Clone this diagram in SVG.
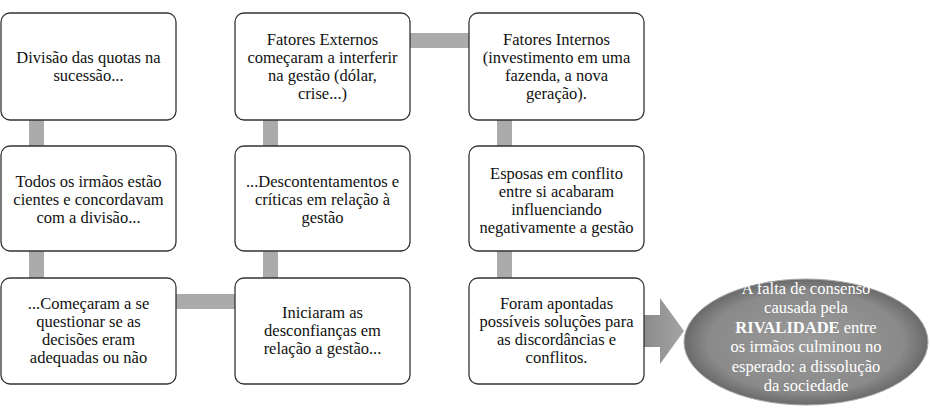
<svg xmlns="http://www.w3.org/2000/svg" width="930" height="420" viewBox="0 0 930 420" font-family="'Liberation Serif', 'DejaVu Serif', 'Times New Roman', serif">
<style>
.b{fill:#fff;stroke:#333;stroke-width:1.3}
text{font-family:'Liberation Serif','DejaVu Serif','Times New Roman',serif;font-size:16.5px;text-anchor:middle}
.t{fill:#111}
.w{fill:#fff}
.c{fill:#ababab}
</style>
<defs>
<radialGradient id="g" cx="0.5" cy="0.5" r="0.5">
<stop offset="0" stop-color="#9a9a9a"/><stop offset="0.8" stop-color="#8a8a8a"/><stop offset="1" stop-color="#6a6a6a"/>
</radialGradient>
<linearGradient id="a" x1="0" y1="0" x2="1" y2="0">
<stop offset="0" stop-color="#8a8a8a"/><stop offset="1" stop-color="#a5a5a5"/>
</linearGradient>
</defs>
<g id="connectors">
<rect class="c" x="29" y="120" width="15" height="26"/>
<rect class="c" x="29" y="251" width="15" height="27"/>
<rect class="c" x="176" y="294" width="59" height="15"/>
<rect class="c" x="263" y="251" width="15" height="27"/>
<rect class="c" x="263" y="120" width="15" height="26"/>
<rect class="c" x="410" y="33" width="59" height="15"/>
<rect class="c" x="497" y="120" width="15" height="26"/>
<rect class="c" x="497" y="251" width="15" height="27"/>
<path d="M644,315 H660 V298 L684,331 L660,364 V347 H644 Z" fill="url(#a)"/>
</g>
<g id="n1"><rect class="b" x="1" y="13" width="175" height="107" rx="9"/>
<text class="t" x="88.5" y="63">Divisão das quotas na</text><text class="t" x="88.5" y="81">sucessão...</text></g>
<g id="n2"><rect class="b" x="1" y="146" width="175" height="105" rx="9"/>
<text class="t" x="88.5" y="187">Todos os irmãos estão</text><text class="t" x="88.5" y="205">cientes e concordavam</text><text class="t" x="88.5" y="223">com a divisão...</text></g>
<g id="n3"><rect class="b" x="1" y="278" width="175" height="106" rx="9"/>
<text class="t" x="88.5" y="309">...Começaram a se</text><text class="t" x="88.5" y="327">questionar se as</text><text class="t" x="88.5" y="345">decisões eram</text><text class="t" x="88.5" y="363">adequadas ou não</text></g>
<g id="n4"><rect class="b" x="235" y="13" width="175" height="107" rx="9"/>
<text class="t" x="322.5" y="45">Fatores Externos</text><text class="t" x="322.5" y="63">começaram a interferir</text><text class="t" x="322.5" y="81">na gestão (dólar,</text><text class="t" x="322.5" y="99">crise...)</text></g>
<g id="n5"><rect class="b" x="235" y="146" width="175" height="105" rx="9"/>
<text class="t" x="322.5" y="187">...Descontentamentos e</text><text class="t" x="322.5" y="205">críticas em relação à</text><text class="t" x="322.5" y="223">gestão</text></g>
<g id="n6"><rect class="b" x="235" y="278" width="175" height="106" rx="9"/>
<text class="t" x="322.5" y="318">Iniciaram as</text><text class="t" x="322.5" y="336">desconfianças em</text><text class="t" x="322.5" y="354">relação a gestão...</text></g>
<g id="n7"><rect class="b" x="469" y="13" width="175" height="107" rx="9"/>
<text class="t" x="556.5" y="45">Fatores Internos</text><text class="t" x="556.5" y="63">(investimento em uma</text><text class="t" x="556.5" y="81">fazenda, a nova</text><text class="t" x="556.5" y="99">geração).</text></g>
<g id="n8"><rect class="b" x="469" y="146" width="175" height="105" rx="9"/>
<text class="t" x="556.5" y="179">Esposas em conflito</text><text class="t" x="556.5" y="197">entre si acabaram</text><text class="t" x="556.5" y="215">influenciando</text><text class="t" x="556.5" y="233">negativamente a gestão</text></g>
<g id="n9"><rect class="b" x="469" y="278" width="175" height="106" rx="9"/>
<text class="t" x="556.5" y="309">Foram apontadas</text><text class="t" x="556.5" y="327">possíveis soluções para</text><text class="t" x="556.5" y="345">as discordâncias e</text><text class="t" x="556.5" y="363">conflitos.</text></g>
<g id="n10"><ellipse cx="806" cy="342" rx="122" ry="63" fill="url(#g)" stroke="#aaa" stroke-width="1"/>
<text class="w" x="806" y="294">A falta de consenso</text>
<text class="w" x="806" y="313">causada pela</text>
<text class="w" x="806" y="333"><tspan font-weight="bold">RIVALIDADE</tspan> entre</text>
<text class="w" x="806" y="352">os irmãos culminou no</text>
<text class="w" x="806" y="372">esperado: a dissolução</text>
<text class="w" x="806" y="391">da sociedade</text></g>
</svg>
